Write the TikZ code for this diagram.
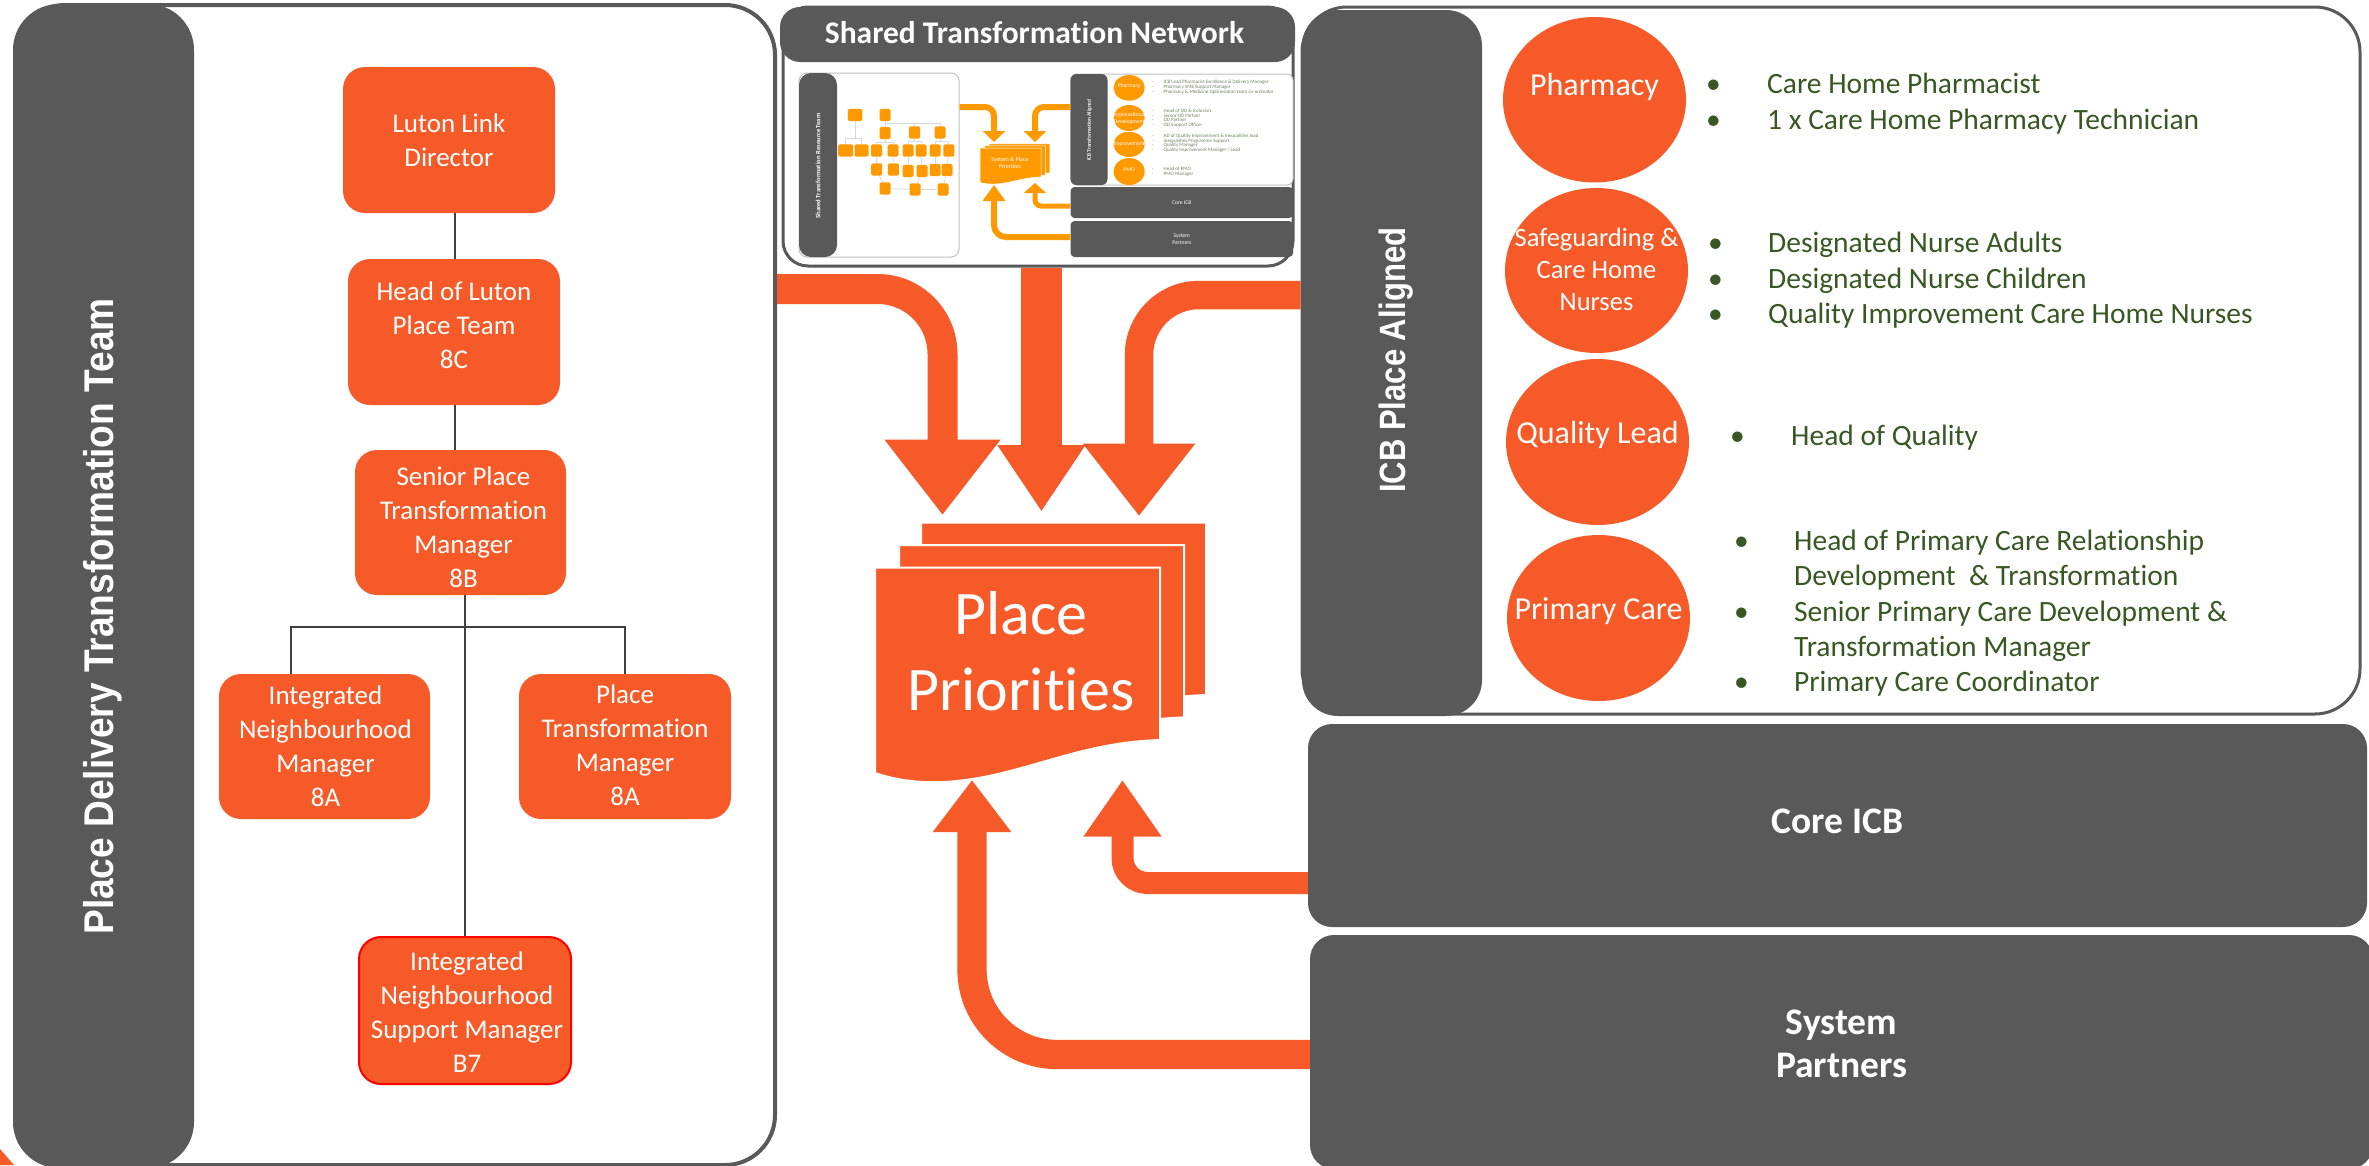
\documentclass[tikz,border=0pt]{standalone}
\usepackage{fontspec}
\usepackage{graphicx}
\setmainfont{Carlito}[Ligatures=NoCommon]
\newfontfamily\arialf{Liberation Sans}
\usetikzlibrary{shapes.geometric,arrows.meta}
\definecolor{flame}{HTML}{F65A28}
\definecolor{slate}{HTML}{595959}
\definecolor{amber}{HTML}{FF9900}
\definecolor{leaf}{HTML}{385723}
\definecolor{wire}{HTML}{404040}
\definecolor{faint}{HTML}{D9D9D9}
\newcommand\fs[2]{\fontsize{#1pt}{#2pt}\selectfont}
% box given by its corners (page pixels)
\newcommand\Bx[7]{\pgfmathsetmacro\bcx{(#3+#5)/2}\pgfmathsetmacro\bcy{(#4+#6)/2}\pgfmathsetmacro\bww{#5-#3}\pgfmathsetmacro\bhh{#6-#4}\node[#1,minimum width=\bww pt,minimum height=\bhh pt,inner sep=0pt] (#2) at (\bcx,\bcy) {#7};}
% text with first baseline at page y #2, shifted right by #1/2
\newcommand\Tx[3]{\pgfmathsetmacro\brs{\bcy-(#2)}\makebox[0pt]{\kern#1pt\raisebox{\brs pt}[0pt][0pt]{\begin{tabular}[t]{@{}c@{}}#3\end{tabular}}}}
\newcommand\sheetpath{(875,567.6) -- (1160,567.6) -- (1160,740) .. controls (1100,742) and (1060,758) .. (1010,771) .. controls (975,780) and (925,790) .. (875,773) -- cycle}
\tikzset{
  x=1pt,y=-1pt,
  panel/.style={rectangle,draw=slate,fill=white,line width=#1},
  bar/.style={rectangle,fill=slate,text=white},
  orgbox/.style={rectangle,fill=flame,rounded corners=22pt,text=white,font=\fs{27}{34}},
  redbox/.style={orgbox,draw=red,line width=2pt},
  orb/.style={ellipse,fill=flame,text=white},
  tie/.style={draw=wire,line width=1.5pt},
  sheet/.style={fill=flame,draw=white,line width=2pt},
  sidetitle/.style={text=white,rotate=90,inner sep=0pt},
  listing/.style={text=leaf,anchor=west,inner sep=0pt,font=\fs{29.5}{35.3}},
  bigtext/.style={font=\fs{37.5}{43.3}\bfseries},
  flow/.style={draw=flame,line width=#1},
  tbox/.style={rectangle,fill=amber,rounded corners=1.5pt},
  tline/.style={draw=faint,line width=.8pt},
  tpanel/.style={rectangle,draw=black!25,fill=white,line width=1pt},
  tsmall/.style={text=white,font=\fs{5.6}{7}},
  tlist/.style={text=leaf!75!white,anchor=west,inner sep=0pt,font=\fs{5}{4.6}},
  torb/.style={ellipse,fill=amber,text=white,font=\fs{5.6}{7}},
}
\begin{document}
\begin{tikzpicture}
\clip (0,0) rectangle (2369,1165);
\fill[white] (0,0) rectangle (2369,1165);
\fill[flame] (0,1149) -- (14,1165) -- (0,1165) -- cycle;

% left panel
\Bx{panel=4pt,rounded corners=50pt}{lp}{15}{5}{775}{1165}{}
\Bx{bar,rounded corners=46pt}{lbar}{13}{4}{194}{1168}{}
\node[sidetitle,font=\arialf\bfseries\fs{37.1}{40}] (ltitle) at (103,616.5) {\scalebox{1}[1.12]{Place Delivery Transformation Team}};
\Bx{orgbox}{o1}{343}{67}{555}{213}{\Tx{0}{132}{Luton Link\\Director}}
\Bx{orgbox}{o2}{348}{259}{560}{405}{\Tx{0}{300}{Head of Luton\\Place Team\\8C}}
\Bx{orgbox}{o3}{355}{450}{566}{595}{\Tx{6}{485}{Senior Place\\Transformation\\Manager\\8B}}
\Bx{orgbox}{o4}{219}{674}{430}{819}{\Tx{2}{704}{Integrated\\Neighbourhood\\Manager\\8A}}
\Bx{orgbox}{o5}{519}{674}{731}{819}{\Tx{0}{703}{Place\\Transformation\\Manager\\8A}}
\Bx{redbox}{o6}{359}{937}{571}{1084}{\Tx{4}{970.5}{Integrated\\Neighbourhood\\Support Manager\\B7}}
\coordinate (forkO) at (465,627);
\draw[tie] (455,213) -- (455,259);
\draw[tie] (455,405) -- (455,450);
\draw[tie] (forkO |- o3.south) -- (forkO |- o6.north);
\draw[tie] (o4.north -| 291,0) -- (forkO -| 291,0) -- (forkO -| 625,0) -- (o5.north);

% right panel
\Bx{panel=3pt,rounded corners=45pt}{rp}{1302}{7}{2360}{714}{}
\Bx{bar,rounded corners=36pt}{rbar}{1302}{10}{1482}{716}{}
\node[sidetitle,font=\arialf\bfseries\fs{31}{36}] (rtitle) at (1396,360) {\scalebox{1}[1.18]{ICB Place Aligned}};
\Bx{orb,font=\fs{32}{38}}{c1}{1503}{17}{1686}{182.5}{\Tx{0}{95}{Pharmacy}}
\Bx{orb,font=\fs{26.5}{32}}{c2}{1505}{188}{1688}{353}{\Tx{0}{246.5}{Safeguarding \&\\Care Home\\Nurses}}
\Bx{orb,font=\fs{32}{38}}{c3}{1506}{359}{1689}{525}{\Tx{0}{443}{Quality Lead}}
\Bx{orb,font=\fs{32}{38}}{c4}{1507}{535}{1690}{701}{\Tx{0}{619}{Primary Care}}
\node[listing] (l1) at (1706,104.5) {\begin{tabular}{@{}p{61pt}@{}l@{}}•&Care Home Pharmacist\\•&1 x Care Home Pharmacy Technician\end{tabular}};
\node[listing] (l2) at (1708,281) {\begin{tabular}{@{}p{60pt}@{}l@{}}•&Designated Nurse Adults\\•&Designated Nurse Children\\•&Quality Improvement Care Home Nurses\end{tabular}};
\node[listing] (l3) at (1730,438.5) {\begin{tabular}{@{}p{61pt}@{}l@{}}•&Head of Quality\end{tabular}};
\node[listing] (l4) at (1734,614) {\begin{tabular}{@{}p{60pt}@{}l@{}}•&Head of Primary Care Relationship\\&Development \ \& Transformation\\•&Senior Primary Care Development \&\\&Transformation Manager\\•&Primary Care Coordinator\end{tabular}};

% grey blocks
\Bx{bar,rounded corners=24pt,bigtext}{core}{1308}{724}{2367}{927}{\Tx{0}{833.6}{Core ICB}}
\Bx{bar,rounded corners=24pt,bigtext}{sys}{1310}{935}{2373}{1169}{\Tx{0}{1034}{System\\Partners}}

% shared network panel
\Bx{panel=3pt,rounded corners=25pt}{sp}{783}{7}{1293}{266}{}
\Bx{bar,rounded corners=20pt,font=\fs{31.5}{36}\bfseries}{sph}{780}{7}{1295}{62}{\Tx{-6}{43}{Shared Transformation Network}}

% thumbnail
\Bx{tpanel,rounded corners=8pt}{tl}{799}{73}{959}{257}{}
\Bx{bar,rounded corners=12pt}{tlb}{799}{73}{837}{257}{}
\node[sidetitle,font=\fs{6.6}{8}\bfseries] (tlt) at (818,166) {Shared Transformation Resource Team};
\Bx{tpanel,rounded corners=6pt}{tr}{1070.6}{74}{1293}{185}{}
\Bx{bar,rounded corners=6pt}{trb}{1070.6}{74}{1107.5}{185}{}
\node[sidetitle,font=\fs{5.4}{7}\bfseries] (trt) at (1089.5,130) {ICB Transformation Aligned};
\Bx{bar,rounded corners=4pt,tsmall}{tcore}{1070.6}{187}{1293}{218}{\Tx{0}{204}{Core ICB}}
\Bx{bar,rounded corners=4pt,tsmall}{tsys}{1070.6}{221}{1293}{257}{\Tx{0}{237}{System\\Partners}}
\Bx{torb}{tc1}{1113.6}{75}{1144.7}{100.7}{\Tx{0}{87}{Pharmacy}}
\Bx{torb}{tc2}{1113.6}{105}{1144.7}{131}{\Tx{0}{116}{Organisational\\Development}}
\Bx{torb}{tc3}{1113.6}{131.7}{1144.7}{157}{\Tx{0}{145}{Improvement}}
\Bx{torb}{tc4}{1113.6}{158}{1144.7}{185}{\Tx{0}{171}{PMO}}
\node[tlist] (tl1) at (1152,87.3) {\begin{tabular}{@{}p{11.5pt}@{}l@{}}-&ICB Lead Pharmacist Excellence \& Delivery Manager\\-&Pharmacy SME Support Manager\\-&Pharmacy \& Medicine Optimisation team co-ordinator\end{tabular}};
\node[tlist] (tl2) at (1152,118.5) {\begin{tabular}{@{}p{11.5pt}@{}l@{}}-&Head of OD \& Inclusion\\-&Senior OD Partner\\-&OD Partner\\-&OD Support Officer\end{tabular}};
\node[tlist] (tl3) at (1152,143.5) {\begin{tabular}{@{}p{11.5pt}@{}l@{}}-&AD of Quality Improvement \& Inequalities lead\\-&Inequalities Programme Support\\-&Quality Manager\\-&Quality Improvement Manager / Lead\end{tabular}};
\node[tlist] (tl4) at (1152,171.7) {\begin{tabular}{@{}p{11.5pt}@{}l@{}}-&Head of PMO\\-&PMO Manager\end{tabular}};

% thumbnail org chart
\foreach \n/\x/\y/\w in {t1/855/115/14.5,t2/885/115/11,t3/885/133/11,t4/914.6/132.5/11,t5/940/132.5/11,
  r1/845.7/150.5/15,r2/861.5/150.5/14,r3/876.5/150.5/11,r4/893/150.5/11,r5/908/150.5/11,r6/921/150.5/11,r7/935/150.5/11,r8/948.8/150.5/11,
  s1/876.7/169.5/11,s2/893.3/169.5/11,s3/908/171/11,s4/922/171/11,s5/935/170/11,s6/947/170/11,
  u1/885/188.5/11,u2/915/189.5/11,u3/943/189.5/11}
  {\node[tbox,minimum width=\w pt,minimum height=12.4pt,inner sep=0pt] (\n) at (\x,\y) {};}
\foreach \a/\b/\d in {t1/r1/17,t1/r2/17,t3/r3/2.5,t3/r4/2.5,t4/r5/2.5,t4/r6/2.5,t5/r7/2.5,t5/r8/2.5}
  {\draw[tline] (\a.south) -- ++(0,\d) -| (\b.north);}
\draw[tline] (t2) -- (t3);
\draw[tline] (t2.south) ++(0,1.5) -| (t4.north);
\draw[tline] (t2.south) ++(0,1.5) -| (t5.north);
\foreach \a/\b in {r3/s1,r4/s2,r5/s3,r6/s4,r7/s5,r8/s6,u1/u2,u2/u3,s1/u1,s4/u2,s6/u3}
  {\draw[tline] (\a) -- (\b);}

% thumbnail priorities
\begin{scope}[shift={(980,148)},xscale=.214,yscale=.168,shift={(-875,-567.6)}]
\path[fill=amber,draw=white,line width=.5pt,shift={(42,-24)}] \sheetpath;
\path[fill=amber,draw=white,line width=.5pt,shift={(21,-12)}] \sheetpath;
\path[fill=amber,draw=white,line width=.5pt] \sheetpath;
\end{scope}
\def\bcy{162}
\node[tsmall,font=\fs{6}{7}] (tpp) at (1010,162) {\Tx{0}{161}{System \& Place\\Priorities}};
\coordinate (ttA) at (994,142);
\coordinate (ttB) at (1035,142);
\coordinate (ttC) at (1035,183);
\coordinate (ttD) at (994,185);
\draw[flow=6pt,amber,rounded corners=9pt,-{Triangle[length=11pt,width=22pt]}] (tl.east |- 0,107) -- (ttA |- 0,107) -- (ttA);
\draw[flow=6pt,amber,rounded corners=9pt,-{Triangle[length=11pt,width=22pt]}] (trb.west |- 0,107) -- (ttB |- 0,107) -- (ttB);
\draw[flow=5pt,amber,rounded corners=6pt,-{Triangle[length=10pt,width=22pt]}] (tcore.west |- 0,206) -- (ttC |- 0,206) -- (ttC);
\draw[flow=6pt,amber,rounded corners=12pt,-{Triangle[length=16pt,width=22pt]}] (tsys.west |- 0,237) -- (ttD |- 0,237) -- (ttD);

% place priorities
\path[sheet,shift={(46,-45)}] \sheetpath;
\path[sheet,shift={(24,-22.6)}] \sheetpath;
\path[sheet] \sheetpath;
\def\bcy{651}
\node[text=white,font=\fs{62}{76},inner sep=0pt] (pp) at (1021,651) {\Tx{0}{634}{Place\\Priorities}};

% flows
\coordinate (tipA) at (942.5,515);
\coordinate (tipB) at (1041.4,511.5);
\coordinate (tipC) at (1139,516);
\coordinate (tipD) at (1122.5,780);
\coordinate (tipE) at (972,780);
\draw[flow=30pt,rounded corners=65pt,-{Triangle[length=75.4pt,width=111pt]}] (lp.east |- 0,289) -- (tipA |- 0,289) -- (tipA);
\draw[flow=41.5pt,-{Triangle[length=66.5pt,width=83.4pt]}] (tipB |- sp.south) -- (tipB);
\draw[flow=28.5pt,rounded corners=60pt,-{Triangle[length=72.3pt,width=107.5pt]}] (rp.west |- 0,295) -- (tipC |- 0,295) -- (tipC);
\draw[flow=22pt,rounded corners=25pt,-{Triangle[length=56.5pt,width=74pt]}] (core.west |- 0,883) -- (tipD |- 0,883) -- (tipD);
\draw[flow=29.3pt,rounded corners=85pt,-{Triangle[length=52pt,width=75pt]}] (sys.west |- 0,1054.5) -- (tipE |- 0,1054.5) -- (tipE);
\end{tikzpicture}
\end{document}
